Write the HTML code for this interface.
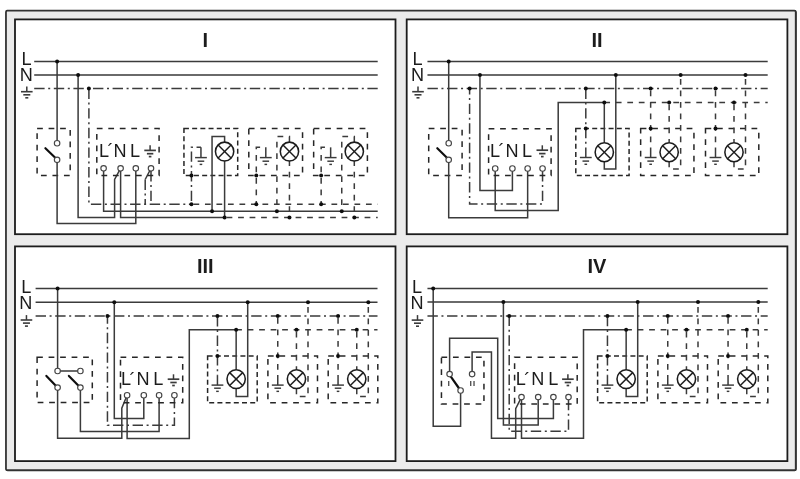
<!DOCTYPE html>
<html lang="de"><head><meta charset="utf-8"><title>Schaltbilder I–IV</title>
<style>
html,body{margin:0;padding:0;background:#fff;}
body{width:800px;height:479px;overflow:hidden;}
svg{display:block;}
svg text{font-family:"Liberation Sans",sans-serif;fill:#1a1a1a;}
</style></head><body>
<svg width="800" height="479" viewBox="0 0 800 479">
<defs><filter id="soft" x="0" y="0" width="800" height="479" filterUnits="userSpaceOnUse"><feGaussianBlur stdDeviation="0.45"/></filter></defs>
<rect width="800" height="479" fill="#fff"/>
<g filter="url(#soft)">
<rect x="6.4" y="11.1" width="789.5" height="459.4" rx="1.2" fill="none" stroke="#333" stroke-width="1.7"/><rect x="6" y="10.7" width="789.7" height="459.5" rx="1.2" fill="#ebebeb" stroke="#333" stroke-width="1.7"/>
<rect x="15" y="19.4" width="380.5" height="214.79999999999998" fill="#fff" stroke="#1c1c1c" stroke-width="1.8"/>
<rect x="15" y="246.4" width="380.5" height="214.70000000000002" fill="#fff" stroke="#1c1c1c" stroke-width="1.8"/>
<rect x="406.7" y="19.4" width="380.7" height="214.79999999999998" fill="#fff" stroke="#1c1c1c" stroke-width="1.8"/>
<rect x="406.7" y="246.4" width="380.7" height="214.70000000000002" fill="#fff" stroke="#1c1c1c" stroke-width="1.8"/>
<g transform="translate(0.2,0.1)">
<text transform="translate(205.20 47.00) scale(1 1)" font-size="20" font-weight="bold" text-anchor="middle" >I</text>
<text transform="translate(596.90 47.00) scale(1 1)" font-size="20" font-weight="bold" text-anchor="middle" >II</text>
<text transform="translate(205.10 272.80) scale(1 1)" font-size="20" font-weight="bold" text-anchor="middle" >III</text>
<text transform="translate(596.80 272.80) scale(1 1)" font-size="20" font-weight="bold" text-anchor="middle" >IV</text>
<polyline points="34.00,61.40 377.50,61.40" fill="none" stroke="#3a3a3a" stroke-width="1.5"/>
<polyline points="34.00,75.00 377.50,75.00" fill="none" stroke="#3a3a3a" stroke-width="1.5"/>
<polyline points="34.00,88.50 377.50,88.50" fill="none" stroke="#3a3a3a" stroke-width="1.5" stroke-dasharray="10.4 3.6 2 3.6" stroke-dashoffset="0"/>
<text transform="translate(21.40 64.75) scale(1 1.06)" font-size="18.1" font-weight="normal" text-anchor="start" >L</text>
<text transform="translate(19.55 81.00) scale(1 1.06)" font-size="18.1" font-weight="normal" text-anchor="start" >N</text>
<polyline points="26.60,86.50 26.60,91.60" fill="none" stroke="#3a3a3a" stroke-width="1.5"/>
<polyline points="20.80,91.60 32.40,91.60" fill="none" stroke="#3a3a3a" stroke-width="1.6"/>
<polyline points="23.10,94.70 30.10,94.70" fill="none" stroke="#3a3a3a" stroke-width="1.6"/>
<polyline points="25.10,97.70 28.10,97.70" fill="none" stroke="#3a3a3a" stroke-width="1.6"/>
<rect x="36.90" y="128.50" width="33.10" height="46.90" fill="none" stroke="#262626" stroke-width="1.5" stroke-dasharray="5.75 5.75" stroke-dashoffset="0"/>
<polyline points="56.90,61.40 56.90,143.10" fill="none" stroke="#3a3a3a" stroke-width="1.5"/>
<polyline points="56.90,159.75 56.90,223.50 135.60,223.50 135.60,168.20" fill="none" stroke="#3a3a3a" stroke-width="1.5"/>
<line x1="45.2" y1="148.1" x2="54.8" y2="157.4" stroke="#111" stroke-width="2.2" stroke-linecap="round"/>
<circle cx="56.90" cy="143.10" r="2.75" fill="#fff" stroke="#444" stroke-width="1.15"/>
<circle cx="56.90" cy="159.75" r="2.75" fill="#fff" stroke="#444" stroke-width="1.15"/>
<polyline points="77.90,75.00 77.90,217.50 114.40,217.50 114.40,179.40 120.40,168.20" fill="none" stroke="#3a3a3a" stroke-width="1.5"/>
<polyline points="120.40,168.20 120.40,217.50 224.40,217.50" fill="none" stroke="#3a3a3a" stroke-width="1.5"/>
<polyline points="224.40,217.50 377.50,217.50" fill="none" stroke="#3a3a3a" stroke-width="1.5" stroke-dasharray="5.75 5.75" stroke-dashoffset="9.5"/>
<polyline points="103.40,168.20 103.40,211.25 377.50,211.25" fill="none" stroke="#3a3a3a" stroke-width="1.5"/>
<polyline points="88.70,88.50 88.70,204.10 191.25,204.10" fill="none" stroke="#3a3a3a" stroke-width="1.5" stroke-dasharray="10.4 3.6 2 3.6" stroke-dashoffset="0"/>
<polyline points="191.25,204.10 377.50,204.10" fill="none" stroke="#3a3a3a" stroke-width="1.5" stroke-dasharray="5.75 5.75" stroke-dashoffset="9.5"/>
<polyline points="150.80,171.00 150.80,204.10" fill="none" stroke="#3a3a3a" stroke-width="1.5" stroke-dasharray="10.4 3.6 2 3.6" stroke-dashoffset="0"/>
<polyline points="150.80,168.20 145.00,179.40" fill="none" stroke="#3a3a3a" stroke-width="1.5"/>
<polyline points="145.00,179.40 145.00,204.10" fill="none" stroke="#3a3a3a" stroke-width="1.5" stroke-dasharray="10.4 3.6 2 3.6" stroke-dashoffset="0"/>
<rect x="96.60" y="128.50" width="62.30" height="46.80" fill="none" stroke="#262626" stroke-width="1.5" stroke-dasharray="5.75 5.75" stroke-dashoffset="0"/>
<text transform="translate(98.80 156.80) scale(1 1.06)" font-size="18.1" font-weight="normal" text-anchor="start" >L</text>
<text transform="translate(107.40 157.20) scale(1 1.06)" font-size="18.1" font-weight="normal" text-anchor="start" >´</text>
<text transform="translate(113.25 156.80) scale(1 1.06)" font-size="18.1" font-weight="normal" text-anchor="start" >N</text>
<text transform="translate(129.75 156.80) scale(1 1.06)" font-size="18.1" font-weight="normal" text-anchor="start" >L</text>
<polyline points="149.90,145.20 149.90,150.30" fill="none" stroke="#3a3a3a" stroke-width="1.5"/>
<polyline points="144.10,150.30 155.70,150.30" fill="none" stroke="#3a3a3a" stroke-width="1.7"/>
<polyline points="146.70,153.60 153.10,153.60" fill="none" stroke="#3a3a3a" stroke-width="1.7"/>
<polyline points="148.60,156.50 151.20,156.50" fill="none" stroke="#3a3a3a" stroke-width="1.7"/>
<circle cx="103.40" cy="168.20" r="2.75" fill="#fff" stroke="#444" stroke-width="1.15"/>
<circle cx="120.40" cy="168.20" r="2.75" fill="#fff" stroke="#444" stroke-width="1.15"/>
<circle cx="135.60" cy="168.20" r="2.75" fill="#fff" stroke="#444" stroke-width="1.15"/>
<circle cx="150.80" cy="168.20" r="2.75" fill="#fff" stroke="#444" stroke-width="1.15"/>
<circle cx="56.90" cy="61.40" r="2.0" fill="#111"/>
<circle cx="77.90" cy="75.00" r="2.0" fill="#111"/>
<circle cx="88.70" cy="88.50" r="2.0" fill="#111"/>
<rect x="183.75" y="128.50" width="53.75" height="46.90" fill="none" stroke="#262626" stroke-width="1.5" stroke-dasharray="5 3.2" stroke-dashoffset="0"/>
<polyline points="200.75,147.25 191.25,147.25 191.25,204.10" fill="none" stroke="#3a3a3a" stroke-width="1.5" stroke-dasharray="10.4 3.6 2 3.6" stroke-dashoffset="6"/>
<polyline points="200.75,147.25 200.75,157.50" fill="none" stroke="#3a3a3a" stroke-width="1.5"/>
<polyline points="194.85,157.50 206.65,157.50" fill="none" stroke="#3a3a3a" stroke-width="1.45"/>
<polyline points="197.45,161.10 204.05,161.10" fill="none" stroke="#3a3a3a" stroke-width="1.45"/>
<polyline points="199.45,164.30 202.05,164.30" fill="none" stroke="#3a3a3a" stroke-width="1.45"/>
<polyline points="224.40,141.80 224.40,136.50 211.85,136.50 211.85,211.25" fill="none" stroke="#3a3a3a" stroke-width="1.5"/>
<polyline points="224.40,160.20 224.40,217.50" fill="none" stroke="#3a3a3a" stroke-width="1.5"/>
<ellipse cx="224.40" cy="151.45" rx="9.15" ry="9.45" fill="#fff" stroke="#1e1e1e" stroke-width="1.55"/>
<polyline points="217.93,144.98 230.87,157.92" fill="none" stroke="#1e1e1e" stroke-width="1.45"/>
<polyline points="217.93,157.92 230.87,144.98" fill="none" stroke="#1e1e1e" stroke-width="1.45"/>
<circle cx="191.25" cy="175.40" r="2.0" fill="#111"/>
<circle cx="191.25" cy="204.10" r="2.0" fill="#111"/>
<circle cx="211.85" cy="211.25" r="2.0" fill="#111"/>
<circle cx="224.40" cy="217.50" r="2.0" fill="#111"/>
<rect x="248.60" y="128.50" width="53.75" height="46.90" fill="none" stroke="#262626" stroke-width="1.5" stroke-dasharray="5.75 5.75" stroke-dashoffset="0"/>
<polyline points="265.60,147.25 256.10,147.25 256.10,204.10" fill="none" stroke="#3a3a3a" stroke-width="1.5" stroke-dasharray="5.75 5.75" stroke-dashoffset="5.8"/>
<polyline points="265.60,147.25 265.60,157.50" fill="none" stroke="#3a3a3a" stroke-width="1.5"/>
<polyline points="259.70,157.50 271.50,157.50" fill="none" stroke="#3a3a3a" stroke-width="1.45"/>
<polyline points="262.30,161.10 268.90,161.10" fill="none" stroke="#3a3a3a" stroke-width="1.45"/>
<polyline points="264.30,164.30 266.90,164.30" fill="none" stroke="#3a3a3a" stroke-width="1.45"/>
<polyline points="289.25,141.80 289.25,136.50 276.70,136.50 276.70,211.25" fill="none" stroke="#3a3a3a" stroke-width="1.5" stroke-dasharray="5.75 5.75" stroke-dashoffset="0"/>
<polyline points="289.25,160.20 289.25,217.50" fill="none" stroke="#3a3a3a" stroke-width="1.5" stroke-dasharray="5.75 5.75" stroke-dashoffset="0"/>
<ellipse cx="289.25" cy="151.45" rx="9.15" ry="9.45" fill="#fff" stroke="#1e1e1e" stroke-width="1.55"/>
<polyline points="282.78,144.98 295.72,157.92" fill="none" stroke="#1e1e1e" stroke-width="1.45"/>
<polyline points="282.78,157.92 295.72,144.98" fill="none" stroke="#1e1e1e" stroke-width="1.45"/>
<circle cx="256.10" cy="175.40" r="2.0" fill="#111"/>
<circle cx="256.10" cy="204.10" r="2.0" fill="#111"/>
<circle cx="276.70" cy="211.25" r="2.0" fill="#111"/>
<circle cx="289.25" cy="217.50" r="2.0" fill="#111"/>
<rect x="313.45" y="128.50" width="53.75" height="46.90" fill="none" stroke="#262626" stroke-width="1.5" stroke-dasharray="5.75 5.75" stroke-dashoffset="0"/>
<polyline points="330.45,147.25 320.95,147.25 320.95,204.10" fill="none" stroke="#3a3a3a" stroke-width="1.5" stroke-dasharray="5.75 5.75" stroke-dashoffset="5.8"/>
<polyline points="330.45,147.25 330.45,157.50" fill="none" stroke="#3a3a3a" stroke-width="1.5"/>
<polyline points="324.55,157.50 336.35,157.50" fill="none" stroke="#3a3a3a" stroke-width="1.45"/>
<polyline points="327.15,161.10 333.75,161.10" fill="none" stroke="#3a3a3a" stroke-width="1.45"/>
<polyline points="329.15,164.30 331.75,164.30" fill="none" stroke="#3a3a3a" stroke-width="1.45"/>
<polyline points="354.10,141.80 354.10,136.50 341.55,136.50 341.55,211.25" fill="none" stroke="#3a3a3a" stroke-width="1.5" stroke-dasharray="5.75 5.75" stroke-dashoffset="0"/>
<polyline points="354.10,160.20 354.10,217.50" fill="none" stroke="#3a3a3a" stroke-width="1.5" stroke-dasharray="5.75 5.75" stroke-dashoffset="0"/>
<ellipse cx="354.10" cy="151.45" rx="9.15" ry="9.45" fill="#fff" stroke="#1e1e1e" stroke-width="1.55"/>
<polyline points="347.63,144.98 360.57,157.92" fill="none" stroke="#1e1e1e" stroke-width="1.45"/>
<polyline points="347.63,157.92 360.57,144.98" fill="none" stroke="#1e1e1e" stroke-width="1.45"/>
<circle cx="320.95" cy="175.40" r="2.0" fill="#111"/>
<circle cx="320.95" cy="204.10" r="2.0" fill="#111"/>
<circle cx="341.55" cy="211.25" r="2.0" fill="#111"/>
<circle cx="354.10" cy="217.50" r="2.0" fill="#111"/>
<polyline points="427.25,61.40 767.50,61.40" fill="none" stroke="#3a3a3a" stroke-width="1.5"/>
<polyline points="427.25,75.00 767.50,75.00" fill="none" stroke="#3a3a3a" stroke-width="1.5"/>
<polyline points="427.25,88.50 767.50,88.50" fill="none" stroke="#3a3a3a" stroke-width="1.5" stroke-dasharray="10.4 3.6 2 3.6" stroke-dashoffset="0"/>
<text transform="translate(412.20 64.75) scale(1 1.06)" font-size="18.1" font-weight="normal" text-anchor="start" >L</text>
<text transform="translate(410.75 81.00) scale(1 1.06)" font-size="18.1" font-weight="normal" text-anchor="start" >N</text>
<polyline points="417.80,86.50 417.80,91.60" fill="none" stroke="#3a3a3a" stroke-width="1.5"/>
<polyline points="412.00,91.60 423.60,91.60" fill="none" stroke="#3a3a3a" stroke-width="1.6"/>
<polyline points="414.30,94.70 421.30,94.70" fill="none" stroke="#3a3a3a" stroke-width="1.6"/>
<polyline points="416.30,97.70 419.30,97.70" fill="none" stroke="#3a3a3a" stroke-width="1.6"/>
<rect x="428.50" y="128.50" width="33.40" height="46.90" fill="none" stroke="#262626" stroke-width="1.5" stroke-dasharray="5.75 5.75" stroke-dashoffset="0"/>
<polyline points="448.50,61.40 448.50,143.10" fill="none" stroke="#3a3a3a" stroke-width="1.5"/>
<polyline points="448.50,159.75 448.50,217.60 527.45,217.60 527.45,168.35" fill="none" stroke="#3a3a3a" stroke-width="1.5"/>
<line x1="437.1" y1="148.1" x2="446.5" y2="157.4" stroke="#111" stroke-width="2.2" stroke-linecap="round"/>
<circle cx="448.50" cy="143.10" r="2.75" fill="#fff" stroke="#444" stroke-width="1.15"/>
<circle cx="448.50" cy="159.75" r="2.75" fill="#fff" stroke="#444" stroke-width="1.15"/>
<polyline points="542.35,171.00 542.35,204.00 469.40,204.00 469.40,88.50" fill="none" stroke="#3a3a3a" stroke-width="1.5" stroke-dasharray="10.4 3.6 2 3.6" stroke-dashoffset="0"/>
<polyline points="479.75,75.00 479.75,190.50 512.20,190.50 512.20,168.35" fill="none" stroke="#3a3a3a" stroke-width="1.5"/>
<polyline points="495.00,168.35 495.00,210.30 558.00,210.30 558.00,102.50 604.10,102.50" fill="none" stroke="#3a3a3a" stroke-width="1.5"/>
<polyline points="604.10,102.50 767.50,102.50" fill="none" stroke="#3a3a3a" stroke-width="1.5" stroke-dasharray="5.75 5.75" stroke-dashoffset="0"/>
<rect x="488.40" y="128.60" width="62.50" height="46.70" fill="none" stroke="#262626" stroke-width="1.5" stroke-dasharray="5.75 5.75" stroke-dashoffset="0"/>
<text transform="translate(489.70 156.90) scale(1 1.06)" font-size="18.1" font-weight="normal" text-anchor="start" >L</text>
<text transform="translate(498.30 157.30) scale(1 1.06)" font-size="18.1" font-weight="normal" text-anchor="start" >´</text>
<text transform="translate(505.25 156.90) scale(1 1.06)" font-size="18.1" font-weight="normal" text-anchor="start" >N</text>
<text transform="translate(521.85 156.90) scale(1 1.06)" font-size="18.1" font-weight="normal" text-anchor="start" >L</text>
<polyline points="542.10,145.20 542.10,150.10" fill="none" stroke="#3a3a3a" stroke-width="1.5"/>
<polyline points="536.30,150.10 547.90,150.10" fill="none" stroke="#3a3a3a" stroke-width="1.7"/>
<polyline points="538.90,153.50 545.30,153.50" fill="none" stroke="#3a3a3a" stroke-width="1.7"/>
<polyline points="540.80,156.50 543.40,156.50" fill="none" stroke="#3a3a3a" stroke-width="1.7"/>
<circle cx="495.00" cy="168.35" r="2.75" fill="#fff" stroke="#444" stroke-width="1.15"/>
<circle cx="512.20" cy="168.35" r="2.75" fill="#fff" stroke="#444" stroke-width="1.15"/>
<circle cx="527.45" cy="168.35" r="2.75" fill="#fff" stroke="#444" stroke-width="1.15"/>
<circle cx="542.35" cy="168.35" r="2.75" fill="#fff" stroke="#444" stroke-width="1.15"/>
<circle cx="448.50" cy="61.40" r="2.0" fill="#111"/>
<circle cx="469.40" cy="88.50" r="2.0" fill="#111"/>
<circle cx="479.75" cy="75.00" r="2.0" fill="#111"/>
<rect x="575.60" y="128.40" width="53.30" height="47.00" fill="none" stroke="#262626" stroke-width="1.5" stroke-dasharray="5 3.2" stroke-dashoffset="0"/>
<polyline points="585.60,88.50 585.60,147.40" fill="none" stroke="#3a3a3a" stroke-width="1.5" stroke-dasharray="10.4 3.6 2 3.6" stroke-dashoffset="0"/>
<polyline points="585.60,147.40 585.60,157.40" fill="none" stroke="#3a3a3a" stroke-width="1.5"/>
<polyline points="579.70,157.40 591.50,157.40" fill="none" stroke="#3a3a3a" stroke-width="1.45"/>
<polyline points="582.30,161.00 588.90,161.00" fill="none" stroke="#3a3a3a" stroke-width="1.45"/>
<polyline points="584.30,164.20 586.90,164.20" fill="none" stroke="#3a3a3a" stroke-width="1.45"/>
<polyline points="604.10,102.50 604.10,142.40" fill="none" stroke="#3a3a3a" stroke-width="1.5"/>
<polyline points="604.10,161.40 604.10,169.00 615.60,169.00 615.60,75.00" fill="none" stroke="#3a3a3a" stroke-width="1.5"/>
<ellipse cx="604.10" cy="152.10" rx="9.15" ry="9.45" fill="#fff" stroke="#1e1e1e" stroke-width="1.55"/>
<polyline points="597.63,145.63 610.57,158.57" fill="none" stroke="#1e1e1e" stroke-width="1.45"/>
<polyline points="597.63,158.57 610.57,145.63" fill="none" stroke="#1e1e1e" stroke-width="1.45"/>
<circle cx="585.60" cy="88.50" r="2.0" fill="#111"/>
<circle cx="585.60" cy="128.40" r="2.0" fill="#111"/>
<circle cx="604.10" cy="102.50" r="2.0" fill="#111"/>
<circle cx="615.60" cy="75.00" r="2.0" fill="#111"/>
<rect x="640.45" y="128.40" width="53.30" height="47.00" fill="none" stroke="#262626" stroke-width="1.5" stroke-dasharray="5.75 5.75" stroke-dashoffset="0"/>
<polyline points="650.45,88.50 650.45,147.40" fill="none" stroke="#3a3a3a" stroke-width="1.5" stroke-dasharray="5.75 5.75" stroke-dashoffset="9.5"/>
<polyline points="650.45,147.40 650.45,157.40" fill="none" stroke="#3a3a3a" stroke-width="1.5"/>
<polyline points="644.55,157.40 656.35,157.40" fill="none" stroke="#3a3a3a" stroke-width="1.45"/>
<polyline points="647.15,161.00 653.75,161.00" fill="none" stroke="#3a3a3a" stroke-width="1.45"/>
<polyline points="649.15,164.20 651.75,164.20" fill="none" stroke="#3a3a3a" stroke-width="1.45"/>
<polyline points="668.95,102.50 668.95,142.40" fill="none" stroke="#3a3a3a" stroke-width="1.5" stroke-dasharray="5.75 5.75" stroke-dashoffset="9.5"/>
<polyline points="668.95,161.40 668.95,169.00 680.45,169.00 680.45,75.00" fill="none" stroke="#3a3a3a" stroke-width="1.5" stroke-dasharray="5.75 5.75" stroke-dashoffset="0"/>
<ellipse cx="668.95" cy="152.10" rx="9.15" ry="9.45" fill="#fff" stroke="#1e1e1e" stroke-width="1.55"/>
<polyline points="662.48,145.63 675.42,158.57" fill="none" stroke="#1e1e1e" stroke-width="1.45"/>
<polyline points="662.48,158.57 675.42,145.63" fill="none" stroke="#1e1e1e" stroke-width="1.45"/>
<circle cx="650.45" cy="88.50" r="2.0" fill="#111"/>
<circle cx="650.45" cy="128.40" r="2.0" fill="#111"/>
<circle cx="668.95" cy="102.50" r="2.0" fill="#111"/>
<circle cx="680.45" cy="75.00" r="2.0" fill="#111"/>
<rect x="705.30" y="128.40" width="53.30" height="47.00" fill="none" stroke="#262626" stroke-width="1.5" stroke-dasharray="5.75 5.75" stroke-dashoffset="0"/>
<polyline points="715.30,88.50 715.30,147.40" fill="none" stroke="#3a3a3a" stroke-width="1.5" stroke-dasharray="5.75 5.75" stroke-dashoffset="9.5"/>
<polyline points="715.30,147.40 715.30,157.40" fill="none" stroke="#3a3a3a" stroke-width="1.5"/>
<polyline points="709.40,157.40 721.20,157.40" fill="none" stroke="#3a3a3a" stroke-width="1.45"/>
<polyline points="712.00,161.00 718.60,161.00" fill="none" stroke="#3a3a3a" stroke-width="1.45"/>
<polyline points="714.00,164.20 716.60,164.20" fill="none" stroke="#3a3a3a" stroke-width="1.45"/>
<polyline points="733.80,102.50 733.80,142.40" fill="none" stroke="#3a3a3a" stroke-width="1.5" stroke-dasharray="5.75 5.75" stroke-dashoffset="9.5"/>
<polyline points="733.80,161.40 733.80,169.00 745.30,169.00 745.30,75.00" fill="none" stroke="#3a3a3a" stroke-width="1.5" stroke-dasharray="5.75 5.75" stroke-dashoffset="0"/>
<ellipse cx="733.80" cy="152.10" rx="9.15" ry="9.45" fill="#fff" stroke="#1e1e1e" stroke-width="1.55"/>
<polyline points="727.33,145.63 740.27,158.57" fill="none" stroke="#1e1e1e" stroke-width="1.45"/>
<polyline points="727.33,158.57 740.27,145.63" fill="none" stroke="#1e1e1e" stroke-width="1.45"/>
<circle cx="715.30" cy="88.50" r="2.0" fill="#111"/>
<circle cx="715.30" cy="128.40" r="2.0" fill="#111"/>
<circle cx="733.80" cy="102.50" r="2.0" fill="#111"/>
<circle cx="745.30" cy="75.00" r="2.0" fill="#111"/>
<polyline points="35.40,288.40 377.30,288.40" fill="none" stroke="#3a3a3a" stroke-width="1.5"/>
<polyline points="35.40,302.10 377.30,302.10" fill="none" stroke="#3a3a3a" stroke-width="1.5"/>
<polyline points="35.40,315.90 377.30,315.90" fill="none" stroke="#3a3a3a" stroke-width="1.5" stroke-dasharray="10.4 3.6 2 3.6" stroke-dashoffset="0"/>
<text transform="translate(21.00 293.15) scale(1 1.06)" font-size="18.1" font-weight="normal" text-anchor="start" >L</text>
<text transform="translate(18.95 309.15) scale(1 1.06)" font-size="18.1" font-weight="normal" text-anchor="start" >N</text>
<polyline points="26.25,315.00 26.25,319.90" fill="none" stroke="#3a3a3a" stroke-width="1.5"/>
<polyline points="20.45,319.90 32.05,319.90" fill="none" stroke="#3a3a3a" stroke-width="1.6"/>
<polyline points="22.75,323.00 29.75,323.00" fill="none" stroke="#3a3a3a" stroke-width="1.6"/>
<polyline points="24.75,326.00 27.75,326.00" fill="none" stroke="#3a3a3a" stroke-width="1.6"/>
<rect x="36.90" y="357.10" width="55.20" height="45.40" fill="none" stroke="#262626" stroke-width="1.5" stroke-dasharray="5.75 5.75" stroke-dashoffset="0"/>
<polyline points="57.40,288.40 57.40,370.90 80.20,370.90" fill="none" stroke="#3a3a3a" stroke-width="1.5"/>
<line x1="46.2" y1="375.8" x2="55.4" y2="385.4" stroke="#111" stroke-width="2.2" stroke-linecap="round"/>
<line x1="68.7" y1="375.8" x2="78.1" y2="385.4" stroke="#111" stroke-width="2.2" stroke-linecap="round"/>
<polyline points="57.40,387.50 57.40,438.10 121.60,438.10 121.60,408.00 126.90,395.10" fill="none" stroke="#3a3a3a" stroke-width="1.5"/>
<polyline points="80.20,387.50 80.20,431.40 158.90,431.40 158.90,395.10" fill="none" stroke="#3a3a3a" stroke-width="1.5"/>
<circle cx="57.40" cy="370.90" r="2.75" fill="#fff" stroke="#444" stroke-width="1.15"/>
<circle cx="80.20" cy="370.90" r="2.75" fill="#fff" stroke="#444" stroke-width="1.15"/>
<circle cx="57.40" cy="387.50" r="2.75" fill="#fff" stroke="#444" stroke-width="1.15"/>
<circle cx="80.20" cy="387.50" r="2.75" fill="#fff" stroke="#444" stroke-width="1.15"/>
<polyline points="114.10,302.10 114.10,418.30 143.60,418.30 143.60,395.10" fill="none" stroke="#3a3a3a" stroke-width="1.5"/>
<polyline points="174.20,397.80 174.20,425.20 107.25,425.20 107.25,315.90" fill="none" stroke="#3a3a3a" stroke-width="1.5" stroke-dasharray="10.4 3.6 2 3.6" stroke-dashoffset="0"/>
<polyline points="126.90,395.10 126.90,438.30 189.10,438.30 189.10,329.75 235.95,329.75" fill="none" stroke="#3a3a3a" stroke-width="1.5"/>
<polyline points="235.95,329.75 377.30,329.75" fill="none" stroke="#3a3a3a" stroke-width="1.5" stroke-dasharray="5.75 5.75" stroke-dashoffset="0"/>
<rect x="120.30" y="357.10" width="62.20" height="45.50" fill="none" stroke="#262626" stroke-width="1.5" stroke-dasharray="5.75 5.75" stroke-dashoffset="0"/>
<text transform="translate(120.90 385.30) scale(1 1.06)" font-size="18.1" font-weight="normal" text-anchor="start" >L</text>
<text transform="translate(129.40 385.70) scale(1 1.06)" font-size="18.1" font-weight="normal" text-anchor="start" >´</text>
<text transform="translate(136.35 385.30) scale(1 1.06)" font-size="18.1" font-weight="normal" text-anchor="start" >N</text>
<text transform="translate(153.15 385.30) scale(1 1.06)" font-size="18.1" font-weight="normal" text-anchor="start" >L</text>
<polyline points="173.30,374.20 173.30,379.10" fill="none" stroke="#3a3a3a" stroke-width="1.5"/>
<polyline points="167.50,379.10 179.10,379.10" fill="none" stroke="#3a3a3a" stroke-width="1.7"/>
<polyline points="170.10,382.40 176.50,382.40" fill="none" stroke="#3a3a3a" stroke-width="1.7"/>
<polyline points="172.00,385.40 174.60,385.40" fill="none" stroke="#3a3a3a" stroke-width="1.7"/>
<circle cx="126.90" cy="395.10" r="2.75" fill="#fff" stroke="#444" stroke-width="1.15"/>
<circle cx="143.60" cy="395.10" r="2.75" fill="#fff" stroke="#444" stroke-width="1.15"/>
<circle cx="158.90" cy="395.10" r="2.75" fill="#fff" stroke="#444" stroke-width="1.15"/>
<circle cx="174.20" cy="395.10" r="2.75" fill="#fff" stroke="#444" stroke-width="1.15"/>
<circle cx="57.40" cy="288.40" r="2.0" fill="#111"/>
<circle cx="114.10" cy="302.10" r="2.0" fill="#111"/>
<circle cx="107.25" cy="315.90" r="2.0" fill="#111"/>
<rect x="207.40" y="355.90" width="49.60" height="46.80" fill="none" stroke="#262626" stroke-width="1.5" stroke-dasharray="5 3.2" stroke-dashoffset="0"/>
<polyline points="217.25,315.90 217.25,375.00" fill="none" stroke="#3a3a3a" stroke-width="1.5" stroke-dasharray="10.4 3.6 2 3.6" stroke-dashoffset="0"/>
<polyline points="217.25,375.00 217.25,385.00" fill="none" stroke="#3a3a3a" stroke-width="1.5"/>
<polyline points="211.35,385.00 223.15,385.00" fill="none" stroke="#3a3a3a" stroke-width="1.45"/>
<polyline points="213.95,388.10 220.55,388.10" fill="none" stroke="#3a3a3a" stroke-width="1.45"/>
<polyline points="215.95,391.25 218.55,391.25" fill="none" stroke="#3a3a3a" stroke-width="1.45"/>
<polyline points="235.95,329.75 235.95,369.55" fill="none" stroke="#3a3a3a" stroke-width="1.5"/>
<polyline points="235.95,388.30 235.95,396.45 247.50,396.45 247.50,302.10" fill="none" stroke="#3a3a3a" stroke-width="1.5"/>
<ellipse cx="235.95" cy="379.00" rx="9.15" ry="9.45" fill="#fff" stroke="#1e1e1e" stroke-width="1.55"/>
<polyline points="229.48,372.53 242.42,385.47" fill="none" stroke="#1e1e1e" stroke-width="1.45"/>
<polyline points="229.48,385.47 242.42,372.53" fill="none" stroke="#1e1e1e" stroke-width="1.45"/>
<circle cx="217.25" cy="315.90" r="2.0" fill="#111"/>
<circle cx="217.25" cy="356.00" r="2.0" fill="#111"/>
<circle cx="235.95" cy="329.75" r="2.0" fill="#111"/>
<circle cx="247.50" cy="302.10" r="2.0" fill="#111"/>
<rect x="267.70" y="355.90" width="49.60" height="46.80" fill="none" stroke="#262626" stroke-width="1.5" stroke-dasharray="5.75 5.75" stroke-dashoffset="0"/>
<polyline points="277.55,315.90 277.55,375.00" fill="none" stroke="#3a3a3a" stroke-width="1.5" stroke-dasharray="5.75 5.75" stroke-dashoffset="9.5"/>
<polyline points="277.55,375.00 277.55,385.00" fill="none" stroke="#3a3a3a" stroke-width="1.5"/>
<polyline points="271.65,385.00 283.45,385.00" fill="none" stroke="#3a3a3a" stroke-width="1.45"/>
<polyline points="274.25,388.10 280.85,388.10" fill="none" stroke="#3a3a3a" stroke-width="1.45"/>
<polyline points="276.25,391.25 278.85,391.25" fill="none" stroke="#3a3a3a" stroke-width="1.45"/>
<polyline points="296.25,329.75 296.25,369.55" fill="none" stroke="#3a3a3a" stroke-width="1.5" stroke-dasharray="5.75 5.75" stroke-dashoffset="9.5"/>
<polyline points="296.25,388.30 296.25,396.45 307.80,396.45 307.80,302.10" fill="none" stroke="#3a3a3a" stroke-width="1.5" stroke-dasharray="5.75 5.75" stroke-dashoffset="0"/>
<ellipse cx="296.25" cy="379.00" rx="9.15" ry="9.45" fill="#fff" stroke="#1e1e1e" stroke-width="1.55"/>
<polyline points="289.78,372.53 302.72,385.47" fill="none" stroke="#1e1e1e" stroke-width="1.45"/>
<polyline points="289.78,385.47 302.72,372.53" fill="none" stroke="#1e1e1e" stroke-width="1.45"/>
<circle cx="277.55" cy="315.90" r="2.0" fill="#111"/>
<circle cx="277.55" cy="356.00" r="2.0" fill="#111"/>
<circle cx="296.25" cy="329.75" r="2.0" fill="#111"/>
<circle cx="307.80" cy="302.10" r="2.0" fill="#111"/>
<rect x="328.00" y="355.90" width="49.60" height="46.80" fill="none" stroke="#262626" stroke-width="1.5" stroke-dasharray="5.75 5.75" stroke-dashoffset="0"/>
<polyline points="337.85,315.90 337.85,375.00" fill="none" stroke="#3a3a3a" stroke-width="1.5" stroke-dasharray="5.75 5.75" stroke-dashoffset="9.5"/>
<polyline points="337.85,375.00 337.85,385.00" fill="none" stroke="#3a3a3a" stroke-width="1.5"/>
<polyline points="331.95,385.00 343.75,385.00" fill="none" stroke="#3a3a3a" stroke-width="1.45"/>
<polyline points="334.55,388.10 341.15,388.10" fill="none" stroke="#3a3a3a" stroke-width="1.45"/>
<polyline points="336.55,391.25 339.15,391.25" fill="none" stroke="#3a3a3a" stroke-width="1.45"/>
<polyline points="356.55,329.75 356.55,369.55" fill="none" stroke="#3a3a3a" stroke-width="1.5" stroke-dasharray="5.75 5.75" stroke-dashoffset="9.5"/>
<polyline points="356.55,388.30 356.55,396.45 368.10,396.45 368.10,302.10" fill="none" stroke="#3a3a3a" stroke-width="1.5" stroke-dasharray="5.75 5.75" stroke-dashoffset="0"/>
<ellipse cx="356.55" cy="379.00" rx="9.15" ry="9.45" fill="#fff" stroke="#1e1e1e" stroke-width="1.55"/>
<polyline points="350.08,372.53 363.02,385.47" fill="none" stroke="#1e1e1e" stroke-width="1.45"/>
<polyline points="350.08,385.47 363.02,372.53" fill="none" stroke="#1e1e1e" stroke-width="1.45"/>
<circle cx="337.85" cy="315.90" r="2.0" fill="#111"/>
<circle cx="337.85" cy="356.00" r="2.0" fill="#111"/>
<circle cx="356.55" cy="329.75" r="2.0" fill="#111"/>
<circle cx="368.10" cy="302.10" r="2.0" fill="#111"/>
<polyline points="427.25,288.50 767.50,288.50" fill="none" stroke="#3a3a3a" stroke-width="1.5"/>
<polyline points="427.25,301.90 767.50,301.90" fill="none" stroke="#3a3a3a" stroke-width="1.5"/>
<polyline points="427.25,315.80 767.50,315.80" fill="none" stroke="#3a3a3a" stroke-width="1.5" stroke-dasharray="10.4 3.6 2 3.6" stroke-dashoffset="0"/>
<text transform="translate(411.80 293.10) scale(1 1.06)" font-size="18.1" font-weight="normal" text-anchor="start" >L</text>
<text transform="translate(410.35 309.30) scale(1 1.06)" font-size="18.1" font-weight="normal" text-anchor="start" >N</text>
<polyline points="417.30,315.00 417.30,320.00" fill="none" stroke="#3a3a3a" stroke-width="1.5"/>
<polyline points="411.50,320.00 423.10,320.00" fill="none" stroke="#3a3a3a" stroke-width="1.6"/>
<polyline points="413.80,323.10 420.80,323.10" fill="none" stroke="#3a3a3a" stroke-width="1.6"/>
<polyline points="415.80,326.10 418.80,326.10" fill="none" stroke="#3a3a3a" stroke-width="1.6"/>
<rect x="441.25" y="357.10" width="42.50" height="46.90" fill="none" stroke="#262626" stroke-width="1.5" stroke-dasharray="5.75 5.75" stroke-dashoffset="0"/>
<polyline points="433.00,288.50 433.00,426.25 460.40,426.25 460.40,390.40" fill="none" stroke="#3a3a3a" stroke-width="1.5"/>
<polyline points="449.40,374.00 449.40,338.10 497.50,338.10 497.50,418.50 553.20,418.50 553.20,397.00" fill="none" stroke="#3a3a3a" stroke-width="1.5"/>
<polyline points="471.90,374.00 471.90,351.90 491.25,351.90 491.25,438.10 515.50,438.10 515.50,408.50 521.30,397.00" fill="none" stroke="#3a3a3a" stroke-width="1.5"/>
<line x1="450.8" y1="376.8" x2="458.6" y2="387.9" stroke="#111" stroke-width="2.2" stroke-linecap="round"/>
<circle cx="449.40" cy="374.00" r="2.75" fill="#fff" stroke="#444" stroke-width="1.15"/>
<circle cx="471.90" cy="374.00" r="2.75" fill="#fff" stroke="#444" stroke-width="1.15"/>
<circle cx="460.40" cy="390.40" r="2.75" fill="#fff" stroke="#444" stroke-width="1.15"/>
<text transform="translate(448.50 386.00) scale(1 1)" font-size="7.3" font-weight="bold" text-anchor="middle" >I</text>
<text transform="translate(472.85 386.00) scale(1 1)" font-size="7.3" font-weight="bold" text-anchor="middle" letter-spacing="1.4">II</text>
<polyline points="503.20,301.90 503.20,425.00 538.00,425.00 538.00,397.00" fill="none" stroke="#3a3a3a" stroke-width="1.5"/>
<polyline points="568.30,399.70 568.30,431.20 509.00,431.20 509.00,315.80" fill="none" stroke="#3a3a3a" stroke-width="1.5" stroke-dasharray="10.4 3.6 2 3.6" stroke-dashoffset="0"/>
<polyline points="521.30,397.00 521.30,438.10 583.30,438.10 583.30,329.75 625.95,329.75" fill="none" stroke="#3a3a3a" stroke-width="1.5"/>
<polyline points="625.95,329.75 767.50,329.75" fill="none" stroke="#3a3a3a" stroke-width="1.5" stroke-dasharray="5.75 5.75" stroke-dashoffset="0"/>
<rect x="514.40" y="357.10" width="62.60" height="46.80" fill="none" stroke="#262626" stroke-width="1.5" stroke-dasharray="5.75 5.75" stroke-dashoffset="0"/>
<text transform="translate(515.60 385.30) scale(1 1.06)" font-size="18.1" font-weight="normal" text-anchor="start" >L</text>
<text transform="translate(524.10 385.70) scale(1 1.06)" font-size="18.1" font-weight="normal" text-anchor="start" >´</text>
<text transform="translate(530.95 385.30) scale(1 1.06)" font-size="18.1" font-weight="normal" text-anchor="start" >N</text>
<text transform="translate(547.95 385.30) scale(1 1.06)" font-size="18.1" font-weight="normal" text-anchor="start" >L</text>
<polyline points="567.70,374.20 567.70,379.10" fill="none" stroke="#3a3a3a" stroke-width="1.5"/>
<polyline points="561.90,379.10 573.50,379.10" fill="none" stroke="#3a3a3a" stroke-width="1.7"/>
<polyline points="564.50,382.40 570.90,382.40" fill="none" stroke="#3a3a3a" stroke-width="1.7"/>
<polyline points="566.40,385.40 569.00,385.40" fill="none" stroke="#3a3a3a" stroke-width="1.7"/>
<circle cx="521.30" cy="397.00" r="2.75" fill="#fff" stroke="#444" stroke-width="1.15"/>
<circle cx="538.00" cy="397.00" r="2.75" fill="#fff" stroke="#444" stroke-width="1.15"/>
<circle cx="553.20" cy="397.00" r="2.75" fill="#fff" stroke="#444" stroke-width="1.15"/>
<circle cx="568.30" cy="397.00" r="2.75" fill="#fff" stroke="#444" stroke-width="1.15"/>
<circle cx="433.00" cy="288.50" r="2.0" fill="#111"/>
<circle cx="503.20" cy="301.90" r="2.0" fill="#111"/>
<circle cx="509.00" cy="315.80" r="2.0" fill="#111"/>
<rect x="597.40" y="355.90" width="49.60" height="46.80" fill="none" stroke="#262626" stroke-width="1.5" stroke-dasharray="5 3.2" stroke-dashoffset="0"/>
<polyline points="607.25,315.80 607.25,375.00" fill="none" stroke="#3a3a3a" stroke-width="1.5" stroke-dasharray="10.4 3.6 2 3.6" stroke-dashoffset="0"/>
<polyline points="607.25,375.00 607.25,385.00" fill="none" stroke="#3a3a3a" stroke-width="1.5"/>
<polyline points="601.35,385.00 613.15,385.00" fill="none" stroke="#3a3a3a" stroke-width="1.45"/>
<polyline points="603.95,388.10 610.55,388.10" fill="none" stroke="#3a3a3a" stroke-width="1.45"/>
<polyline points="605.95,391.25 608.55,391.25" fill="none" stroke="#3a3a3a" stroke-width="1.45"/>
<polyline points="625.95,329.75 625.95,369.55" fill="none" stroke="#3a3a3a" stroke-width="1.5"/>
<polyline points="625.95,388.30 625.95,396.45 637.50,396.45 637.50,301.90" fill="none" stroke="#3a3a3a" stroke-width="1.5"/>
<ellipse cx="625.95" cy="379.00" rx="9.15" ry="9.45" fill="#fff" stroke="#1e1e1e" stroke-width="1.55"/>
<polyline points="619.48,372.53 632.42,385.47" fill="none" stroke="#1e1e1e" stroke-width="1.45"/>
<polyline points="619.48,385.47 632.42,372.53" fill="none" stroke="#1e1e1e" stroke-width="1.45"/>
<circle cx="607.25" cy="315.80" r="2.0" fill="#111"/>
<circle cx="607.25" cy="356.00" r="2.0" fill="#111"/>
<circle cx="625.95" cy="329.75" r="2.0" fill="#111"/>
<circle cx="637.50" cy="301.90" r="2.0" fill="#111"/>
<rect x="657.70" y="355.90" width="49.60" height="46.80" fill="none" stroke="#262626" stroke-width="1.5" stroke-dasharray="5.75 5.75" stroke-dashoffset="0"/>
<polyline points="667.55,315.80 667.55,375.00" fill="none" stroke="#3a3a3a" stroke-width="1.5" stroke-dasharray="5.75 5.75" stroke-dashoffset="9.5"/>
<polyline points="667.55,375.00 667.55,385.00" fill="none" stroke="#3a3a3a" stroke-width="1.5"/>
<polyline points="661.65,385.00 673.45,385.00" fill="none" stroke="#3a3a3a" stroke-width="1.45"/>
<polyline points="664.25,388.10 670.85,388.10" fill="none" stroke="#3a3a3a" stroke-width="1.45"/>
<polyline points="666.25,391.25 668.85,391.25" fill="none" stroke="#3a3a3a" stroke-width="1.45"/>
<polyline points="686.25,329.75 686.25,369.55" fill="none" stroke="#3a3a3a" stroke-width="1.5" stroke-dasharray="5.75 5.75" stroke-dashoffset="9.5"/>
<polyline points="686.25,388.30 686.25,396.45 697.80,396.45 697.80,301.90" fill="none" stroke="#3a3a3a" stroke-width="1.5" stroke-dasharray="5.75 5.75" stroke-dashoffset="0"/>
<ellipse cx="686.25" cy="379.00" rx="9.15" ry="9.45" fill="#fff" stroke="#1e1e1e" stroke-width="1.55"/>
<polyline points="679.78,372.53 692.72,385.47" fill="none" stroke="#1e1e1e" stroke-width="1.45"/>
<polyline points="679.78,385.47 692.72,372.53" fill="none" stroke="#1e1e1e" stroke-width="1.45"/>
<circle cx="667.55" cy="315.80" r="2.0" fill="#111"/>
<circle cx="667.55" cy="356.00" r="2.0" fill="#111"/>
<circle cx="686.25" cy="329.75" r="2.0" fill="#111"/>
<circle cx="697.80" cy="301.90" r="2.0" fill="#111"/>
<rect x="718.00" y="355.90" width="49.60" height="46.80" fill="none" stroke="#262626" stroke-width="1.5" stroke-dasharray="5.75 5.75" stroke-dashoffset="0"/>
<polyline points="727.85,315.80 727.85,375.00" fill="none" stroke="#3a3a3a" stroke-width="1.5" stroke-dasharray="5.75 5.75" stroke-dashoffset="9.5"/>
<polyline points="727.85,375.00 727.85,385.00" fill="none" stroke="#3a3a3a" stroke-width="1.5"/>
<polyline points="721.95,385.00 733.75,385.00" fill="none" stroke="#3a3a3a" stroke-width="1.45"/>
<polyline points="724.55,388.10 731.15,388.10" fill="none" stroke="#3a3a3a" stroke-width="1.45"/>
<polyline points="726.55,391.25 729.15,391.25" fill="none" stroke="#3a3a3a" stroke-width="1.45"/>
<polyline points="746.55,329.75 746.55,369.55" fill="none" stroke="#3a3a3a" stroke-width="1.5" stroke-dasharray="5.75 5.75" stroke-dashoffset="9.5"/>
<polyline points="746.55,388.30 746.55,396.45 758.10,396.45 758.10,301.90" fill="none" stroke="#3a3a3a" stroke-width="1.5" stroke-dasharray="5.75 5.75" stroke-dashoffset="0"/>
<ellipse cx="746.55" cy="379.00" rx="9.15" ry="9.45" fill="#fff" stroke="#1e1e1e" stroke-width="1.55"/>
<polyline points="740.08,372.53 753.02,385.47" fill="none" stroke="#1e1e1e" stroke-width="1.45"/>
<polyline points="740.08,385.47 753.02,372.53" fill="none" stroke="#1e1e1e" stroke-width="1.45"/>
<circle cx="727.85" cy="315.80" r="2.0" fill="#111"/>
<circle cx="727.85" cy="356.00" r="2.0" fill="#111"/>
<circle cx="746.55" cy="329.75" r="2.0" fill="#111"/>
<circle cx="758.10" cy="301.90" r="2.0" fill="#111"/>
</g>
</g>
</svg>
</body></html>
